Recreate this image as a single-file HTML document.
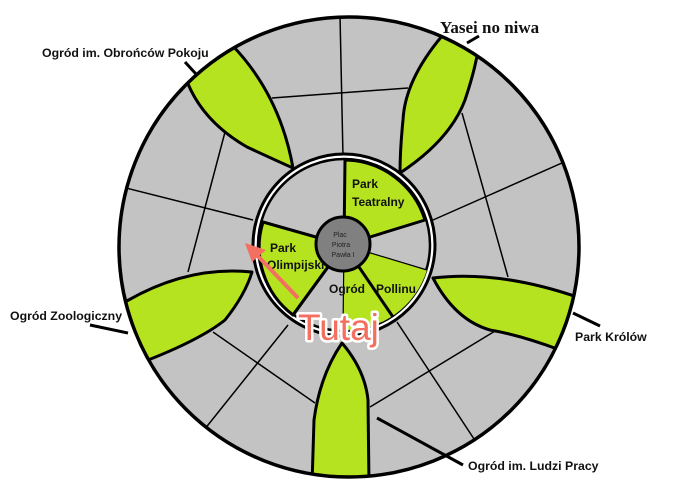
<!DOCTYPE html>
<html><head><meta charset="utf-8"><style>
html,body{margin:0;padding:0;background:#fff;width:684px;height:485px;overflow:hidden}
svg{display:block}
</style></head><body>
<svg width="684" height="485" viewBox="0 0 684 485" xmlns="http://www.w3.org/2000/svg" font-family="Liberation Sans, sans-serif">
<defs><clipPath id="oc"><circle cx="349" cy="247" r="230"/></clipPath></defs>
<circle cx="349" cy="247" r="230" fill="#c3c3c3"/>
<g clip-path="url(#oc)" stroke="#000" stroke-width="1.5" fill="none">
<line x1="340" y1="15" x2="343" y2="157"/>
<line x1="272" y1="98" x2="408" y2="88"/>
<line x1="225" y1="132" x2="188" y2="272"/>
<line x1="110" y1="184" x2="253" y2="220"/>
<line x1="462" y1="113" x2="508" y2="277"/>
<line x1="433" y1="220" x2="580" y2="155"/>
<line x1="288" y1="325" x2="200" y2="435"/>
<line x1="213" y1="332" x2="315" y2="403"/>
<line x1="397" y1="322" x2="478" y2="445"/>
<line x1="370" y1="407" x2="500" y2="328"/>
</g>
<g clip-path="url(#oc)" fill="#b5e31f" stroke="#000" stroke-width="3" stroke-linejoin="round">
<path d="M185,76 Q200,120 247,147 Q275,160 293,168 Q280,95 232,45 Z"/>
<path d="M442,36 Q405,80 403,120 Q400,150 400,173 Q450,140 465,100 Q475,70 478,50 Z"/>
<path d="M433,278 Q500,270 580,298 L560,350 Q520,335 490,330 Q455,320 433,278 Z"/>
<path d="M342,343 Q320,375 314,420 L312,485 L369,485 L368,400 Q365,370 342,343 Z"/>
<path d="M252,272 Q185,265 120,305 L143,362 Q200,340 225,320 Q245,295 252,272 Z"/>
</g>
<circle cx="349" cy="247" r="230" fill="none" stroke="#000" stroke-width="3.5"/>
<circle cx="344" cy="245" r="91" fill="#fff" stroke="#000" stroke-width="3"/>
<circle cx="344" cy="245" r="86" fill="#c3c3c3" stroke="#000" stroke-width="2.5"/>
<g stroke="#000" stroke-width="3" stroke-linejoin="round">
<path d="M344,245 L345,160 A85,85 0 0 1 425,220 Z" fill="#b5e31f"/>
<path d="M344,245 L427,270 A85,85 0 0 1 343,330 Z" fill="#b5e31f" stroke-width="0"/>
<path d="M344,245 L263,222 A85,85 0 0 0 293,315 Z" fill="#b5e31f"/>
<line x1="344" y1="245" x2="393" y2="317"/>
<line x1="344" y1="245" x2="293" y2="315"/>
</g>
<g stroke="#000" stroke-width="1.2">
<line x1="344" y1="245" x2="427" y2="270"/>
<line x1="344" y1="245" x2="343" y2="330"/>
</g>
<circle cx="343" cy="244" r="27" fill="#808080" stroke="#000" stroke-width="3"/>
<g font-size="7" fill="#222" text-anchor="middle">
<text x="340" y="237">Plac</text><text x="341" y="247">Piotra</text><text x="343" y="257">Pawła I</text>
</g>
<g font-size="12" font-weight="bold" fill="#111">
<text x="352" y="188">Park</text><text x="352" y="206">Teatralny</text>
<text x="270" y="252">Park</text><text x="267" y="269">Olimpijski</text>
<text x="329" y="293">Ogród</text><text x="376" y="293">Pollinu</text>
</g>
<g stroke="#000" stroke-width="3">
<line x1="185" y1="62" x2="196" y2="74"/>
<line x1="467" y1="43" x2="479" y2="36"/>
<line x1="90" y1="325" x2="128" y2="333"/>
<line x1="573" y1="313" x2="600" y2="326"/>
<line x1="377" y1="418" x2="463" y2="465"/>
</g>
<g font-size="12.3" font-weight="bold" fill="#111">
<text x="42" y="57">Ogród im. Obrońców Pokoju</text>
<text x="10" y="320">Ogród Zoologiczny</text>
<text x="575" y="341">Park Królów</text>
<text x="468" y="470">Ogród im. Ludzi Pracy</text>
</g>
<text x="440" y="33" font-family="Liberation Serif, serif" font-size="17" font-weight="bold" fill="#111">Yasei no niwa</text>
<line x1="298" y1="298" x2="254" y2="252" stroke="#f36f5f" stroke-width="4"/>
<polygon points="245,243 266,250 252,262" fill="#f36f5f"/>
<text x="298" y="340" font-size="37" fill="#f36f5f" stroke="#fff" stroke-width="5" paint-order="stroke" stroke-linejoin="round">Tutaj</text>
</svg>
</body></html>
